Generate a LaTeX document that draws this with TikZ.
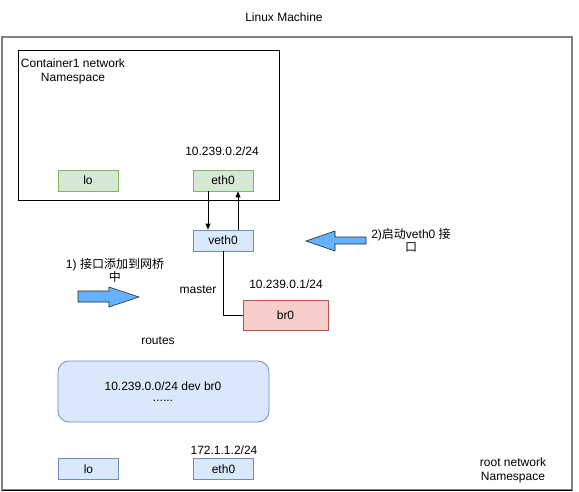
\documentclass[tikz,border=0pt]{standalone}
\usepackage{fontspec}
\setmainfont{Liberation Sans}
\newfontfamily\cjk{Noto Sans CJK SC}
\usetikzlibrary{arrows.meta}
\definecolor{gfill}{HTML}{D5E8D4}
\definecolor{gline}{HTML}{82B366}
\definecolor{bfill}{HTML}{DAE8FC}
\definecolor{bline}{HTML}{6C8EBF}
\definecolor{rfill}{HTML}{F8CECC}
\definecolor{rline}{HTML}{B85450}
\definecolor{afill}{HTML}{66B2FF}
\definecolor{frame}{HTML}{808080}
\begin{document}
\begin{tikzpicture}[x=1pt,y=-1pt,
  every node/.style={font=\fontsize{12pt}{14pt}\selectfont, inner sep=0pt},
  gbox/.style={draw=gline, fill=gfill, minimum width=60pt, minimum height=21pt, line width=0.8pt},
  bbox/.style={draw=bline, fill=bfill, minimum width=60pt, minimum height=21pt, line width=0.8pt},
  lbl/.style={align=center},
  cjklbl/.style={align=center, font=\fontsize{12pt}{12.5pt}\selectfont},
  blk/.style={draw=black!85, fill=afill, line width=0.6pt},
  conn/.style={line width=0.9pt}]
\useasboundingbox (0,0) rectangle (579,491);
\fill[white] (0,0) rectangle (579,491);
% outer frame
\draw[frame, line width=2pt] (2,37) rectangle (572,490);
\draw[black, line width=1pt] (2,490) -- (572,490);
\node[lbl] (title) at (284,17) {Linux Machine};
% container namespace
\node[draw=black, line width=0.9pt, minimum width=261pt, minimum height=150pt] (ns) at (148.5,125) {};
\node[lbl, align=center] (nslbl) at (73,71) {Container1 network\\Namespace};
\node[lbl] (ip2) at (222,151) {10.239.0.2/24};
\node[gbox] (clo) at (88,180.5) {lo};
\node[gbox] (ceth) at (223,180.5) {eth0};
% veth0
\node[bbox] (veth) at (223,240.5) {veth0};
\draw[conn, -{Triangle[length=6pt,width=5pt]}] ([xshift=-15pt]ceth.south) -- ([xshift=-15pt]veth.north);
\draw[conn, -{Triangle[length=6pt,width=5pt]}] ([xshift=15pt]veth.north) -- ([xshift=15pt]ceth.south);
% br0
\node[draw=rline, fill=rfill, minimum width=85pt, minimum height=30pt, line width=0.8pt] (br) at (285.5,315) {br0};
\node[lbl] (ip1) at (286,284) {10.239.0.1/24};
\draw[conn] (veth.south) |- (br.west);
\node[lbl] (master) at (198,290) {master};
% block arrows
\draw[blk] (306,241) -- (335,231) -- (335,237) -- (366,237) -- (366,244) -- (335,244) -- (335,251) -- cycle;
\node[cjklbl] (step2) at (411,240.5) {2)\cjk 启动\rmfamily veth0 \cjk 接\\\cjk 口};
\draw[blk] (139,297) -- (109,287) -- (109,291) -- (78,291) -- (78,302) -- (109,302) -- (109,307) -- cycle;
\node[cjklbl] (step1) at (115,270.5) {1) \cjk 接口添加到网桥\\\cjk 中};
% routes
\node[lbl] (routes) at (158,341) {routes};
\node[draw=bline, fill=bfill, rounded corners=11pt, minimum width=211pt, minimum height=61pt, line width=0.8pt] (rt) at (163.5,391.5) {};
\node[lbl] (rt1) at (163,386) {10.239.0.0/24 dev br0};
\node[lbl] (rt2) at (163,401) {......};
% root namespace interfaces
\node[lbl] (ip3) at (224,450) {172.1.1.2/24};
\node[bbox] (rlo) at (88.5,469) {lo};
\node[bbox] (reth) at (223.5,469) {eth0};
\node[lbl] (rootlbl) at (513,470) {root network\\Namespace};
\end{tikzpicture}
\end{document}
